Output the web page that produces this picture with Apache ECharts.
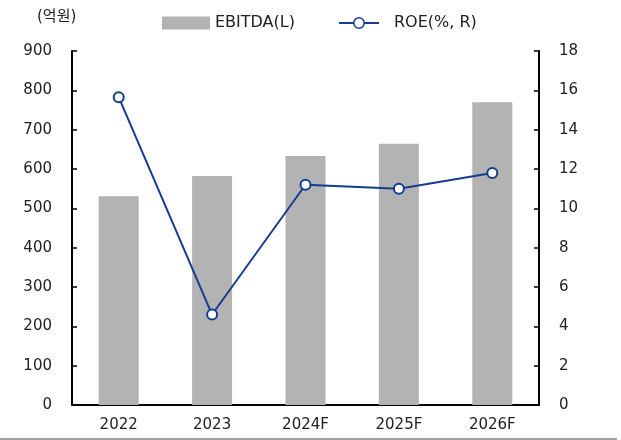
<!DOCTYPE html>
<html>
<head>
<meta charset="utf-8">
<script src="https://cdn.jsdelivr.net/npm/echarts@6/dist/echarts.min.js"></script>
<style>
  html, body { margin: 0; padding: 0; background: #fff; }
  #main { width: 621px; height: 440px; }
</style>
</head>
<body>
<div id="main"></div>
<script>
// 카테고리 / 데이터
const years = ['2022', '2023', '2024F', '2025F', '2026F'];
const ebitda = [531, 582, 633, 664, 770];     // 억원 (좌축)
const roe = [15.65, 4.6, 11.2, 11.0, 11.8];   // % (우축)
const leftTicks = { min: 0, max: 900, interval: 100 };
const rightTicks = { min: 0, max: 18, interval: 2 };

const FONT = 'DejaVu Sans, "Noto Sans CJK KR", sans-serif';
const BLUE = '#143c91';

let myChart = echarts.init(document.getElementById('main'));

let option = {
    animation: false,
    textStyle: { fontFamily: FONT },
    grid: { left: 72, right: 82, top: 51, bottom: 35 },
    legend: [
        {
            data: [{ name: 'EBITDA(L)', icon: 'rect' }],
            left: 157, top: 10,
            itemWidth: 48, itemHeight: 13,
            textStyle: { fontSize: 16, color: '#222', fontFamily: FONT }
        },
        {
            data: ['ROE(%, R)'],
            left: 333, top: 10,
            itemWidth: 40, itemHeight: 13,
            itemStyle: { borderWidth: 1.5 },
            textStyle: { fontSize: 16, color: '#222', fontFamily: FONT, padding: [0, 0, 0, 10] }
        }
    ],
    graphic: [
        {
            type: 'text', left: 37, top: 10,
            style: { text: '(억원)', fontSize: 15, fill: '#222', fontFamily: FONT }
        },
        {
            type: 'line',
            shape: { x1: 0, y1: 439, x2: 617, y2: 439 },
            style: { stroke: '#444', lineWidth: 1 }
        }
    ],
    xAxis: {
        type: 'category',
        data: years,
        axisLine: { lineStyle: { color: '#000', width: 2 } },
        axisTick: { inside: true, length: 5, lineStyle: { color: '#000', width: 1.5 } },
        axisLabel: { fontSize: 15, color: '#222', margin: 13 }
    },
    yAxis: [
        {
            type: 'value',
            min: leftTicks.min, max: leftTicks.max, interval: leftTicks.interval,
            axisLine: { show: true, lineStyle: { color: '#000', width: 2 } },
            axisTick: { show: true, inside: true, length: 5, lineStyle: { color: '#000', width: 1.5 } },
            axisLabel: { fontSize: 15, color: '#222', margin: 20 },
            splitLine: { show: false }
        },
        {
            type: 'value',
            min: rightTicks.min, max: rightTicks.max, interval: rightTicks.interval,
            axisLine: { show: true, lineStyle: { color: '#000', width: 2 } },
            axisTick: { show: true, inside: true, length: 5, lineStyle: { color: '#000', width: 1.5 } },
            axisLabel: { fontSize: 15, color: '#222', margin: 20 },
            splitLine: { show: false }
        }
    ],
    series: [
        {
            name: 'EBITDA(L)',
            type: 'bar',
            data: ebitda,
            barWidth: 40,
            itemStyle: { color: '#b3b3b3' }
        },
        {
            name: 'ROE(%, R)',
            type: 'line',
            yAxisIndex: 1,
            data: roe,
            symbol: 'circle',
            symbolSize: 10,
            lineStyle: { color: BLUE, width: 2 },
            itemStyle: { color: '#fff', borderColor: BLUE, borderWidth: 2 }
        }
    ]
};
myChart.setOption(option);
</script>
</body>
</html>
